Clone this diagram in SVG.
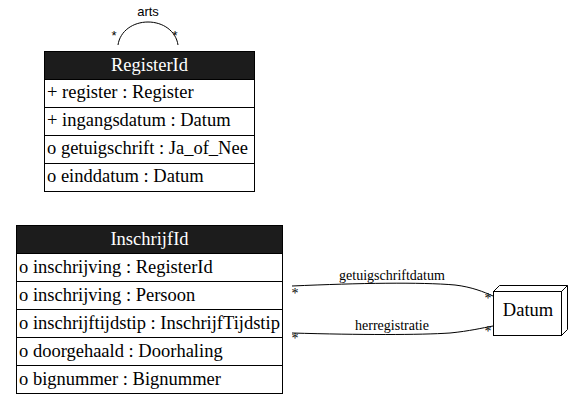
<svg xmlns="http://www.w3.org/2000/svg" width="571" height="405" viewBox="0 0 571 405">
<style>
.bg{fill:#ffffff}
.box{fill:#ffffff;stroke:#000000;stroke-width:1}
.hdr{fill:#1c1c1c;stroke:#000000;stroke-width:1}
.ht{font-family:"Liberation Serif","Times New Roman",serif;font-size:18.5px;fill:#ffffff;text-anchor:middle}
.rt{font-family:"Liberation Serif","Times New Roman",serif;font-size:18.5px;fill:#000000}
.lbl{font-family:"Liberation Serif","Times New Roman",serif;font-size:14px;fill:#000000;text-anchor:middle}
.star{font-family:"Liberation Serif","Times New Roman",serif;font-size:14px;fill:#000000;text-anchor:middle}
.sans{font-family:"Liberation Sans",Arial,sans-serif;font-size:13px;fill:#000000;text-anchor:middle}
.edge{fill:none;stroke:#000000;stroke-width:1}
</style>
<rect class="bg" x="0" y="0" width="571" height="405"/>
<g id="connectors">
  <path class="edge" d="M118,45 C120,31 133,22 148,22 C163,22 176,31 178,45"/>
  <text class="sans" x="148" y="16">arts</text>
  <text class="sans" x="114" y="40">*</text>
  <text class="sans" x="175" y="40">*</text>
  <path class="edge" d="M292,286 C360,283 420,282 455,285 C472,287 484,292 493,296"/>
  <text class="lbl" x="392" y="280">getuigschriftdatum</text>
  <text class="star" x="295" y="298">*</text>
  <text class="star" x="488" y="303">*</text>
  <path class="edge" d="M292,333 C360,335 420,335 450,333 C470,331 482,328 493,326"/>
  <text class="lbl" x="392" y="330">herregistratie</text>
  <text class="star" x="295" y="343">*</text>
  <text class="star" x="488" y="336">*</text>
</g>
<g id="RegisterId">
  <rect class="hdr" x="44.5" y="51.5" width="210" height="28"/>
  <text class="ht" x="149.5" y="71">RegisterId</text>
  <rect class="box" x="44.5" y="79.5" width="210" height="28"/>
  <text class="rt" x="47" y="98">+ register : Register</text>
  <rect class="box" x="44.5" y="107.5" width="210" height="28"/>
  <text class="rt" x="47" y="126">+ ingangsdatum : Datum</text>
  <rect class="box" x="44.5" y="135.5" width="210" height="28"/>
  <text class="rt" x="47" y="154">o getuigschrift : Ja_of_Nee</text>
  <rect class="box" x="44.5" y="163.5" width="210" height="28"/>
  <text class="rt" x="47" y="182">o einddatum : Datum</text>
</g>
<g id="InschrijfId">
  <rect class="hdr" x="16.5" y="225.5" width="266" height="28"/>
  <text class="ht" x="149.5" y="245">InschrijfId</text>
  <rect class="box" x="16.5" y="253.5" width="266" height="28"/>
  <text class="rt" x="19" y="273">o inschrijving : RegisterId</text>
  <rect class="box" x="16.5" y="281.5" width="266" height="28"/>
  <text class="rt" x="19" y="301">o inschrijving : Persoon</text>
  <rect class="box" x="16.5" y="309.5" width="266" height="28"/>
  <text class="rt" x="19" y="329">o inschrijftijdstip : InschrijfTijdstip</text>
  <rect class="box" x="16.5" y="337.5" width="266" height="28"/>
  <text class="rt" x="19" y="357">o doorgehaald : Doorhaling</text>
  <rect class="box" x="16.5" y="365.5" width="266" height="28"/>
  <text class="rt" x="19" y="385">o bignummer : Bignummer</text>
</g>
<g id="Datum">
  <polygon class="box" points="493.5,291.5 499.5,285.5 567.5,285.5 567.5,329.5 561.5,335.5 493.5,335.5"/>
  <line class="edge" x1="561.5" y1="291.5" x2="567.5" y2="285.5"/>
  <rect class="box" x="493.5" y="291.5" width="68" height="44"/>
  <text class="rt" x="528" y="316" text-anchor="middle">Datum</text>
</g>
</svg>
